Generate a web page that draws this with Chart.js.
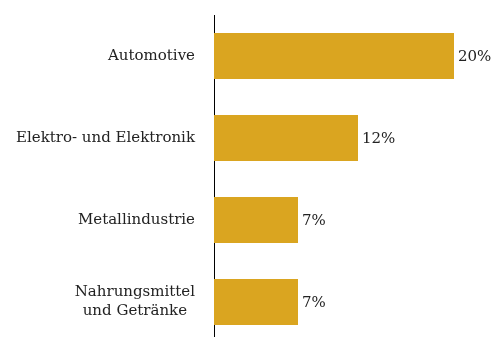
<!DOCTYPE html>
<html>
<head>
<meta charset="utf-8">
<script src="https://cdn.jsdelivr.net/npm/chart.js@4"></script>
<style>
  html, body { margin: 0; padding: 0; background: #fff; overflow: hidden; }
  #wrap { width: 493px; height: 343px; }
</style>
</head>
<body>
<div id="wrap"><canvas id="grafico"></canvas></div>
<script>
const branchen = [
  "Automotive",
  "Elektro- und Elektronik",
  "Metallindustrie",
  ["Nahrungsmittel", "und Getränke"]
];
const anteile = [20, 12, 7, 7];
const etiketten = ["20%", "12%", "7%", "7%"];

const schrift = "'DejaVu Serif', 'Liberation Serif', serif";

// Prozentwerte rechts neben die Balken, Kategorien links (mehrzeilig zentriert)
const textPlugin = {
  id: "texte",
  afterDatasetsDraw(chart) {
    const ctx = chart.ctx;
    const meta = chart.getDatasetMeta(0);
    const yAchse = chart.scales.y;
    ctx.save();
    ctx.font = "15px " + schrift;
    ctx.fillStyle = "#222";
    ctx.textBaseline = "middle";
    ctx.textAlign = "left";
    meta.data.forEach((bar, i) => {
      ctx.fillText(etiketten[i], bar.x + 4, bar.y + 1);
    });
    ctx.textAlign = "center";
    const rechts = yAchse.right - 19;
    branchen.forEach((lab, i) => {
      const zeilen = Array.isArray(lab) ? lab : [lab];
      const breite = Math.max(...zeilen.map((z) => ctx.measureText(z).width));
      const mitteX = rechts - breite / 2;
      const mitteY = yAchse.getPixelForTick(i);
      const zeilenHoehe = 19;
      zeilen.forEach((z, k) => {
        const y = mitteY + (k - (zeilen.length - 1) / 2) * zeilenHoehe;
        ctx.fillText(z, mitteX, y);
      });
    });
    ctx.restore();
  }
};

new Chart(document.getElementById("grafico"), {
  type: "bar",
  data: {
    labels: branchen,
    datasets: [{
      data: anteile,
      backgroundColor: "#DAA520",
      borderWidth: 0,
      barPercentage: 0.56,
      categoryPercentage: 1
    }]
  },
  options: {
    indexAxis: "y",
    responsive: true,
    maintainAspectRatio: false,
    animation: false,
    layout: { padding: { top: 15, right: 15, bottom: 0, left: 0 } },
    plugins: { legend: { display: false }, tooltip: { enabled: false } },
    scales: {
      x: { display: false, min: 0, max: 22 },
      y: {
        grid: { display: false, drawTicks: false },
        border: { display: true, color: "#000", width: 1 },
        ticks: { display: false },
        afterFit(scale) {
          scale.width = 214;
          scale.paddingTop = 0;
          scale.paddingBottom = 0;
        }
      }
    }
  },
  plugins: [textPlugin]
});
</script>
</body>
</html>
